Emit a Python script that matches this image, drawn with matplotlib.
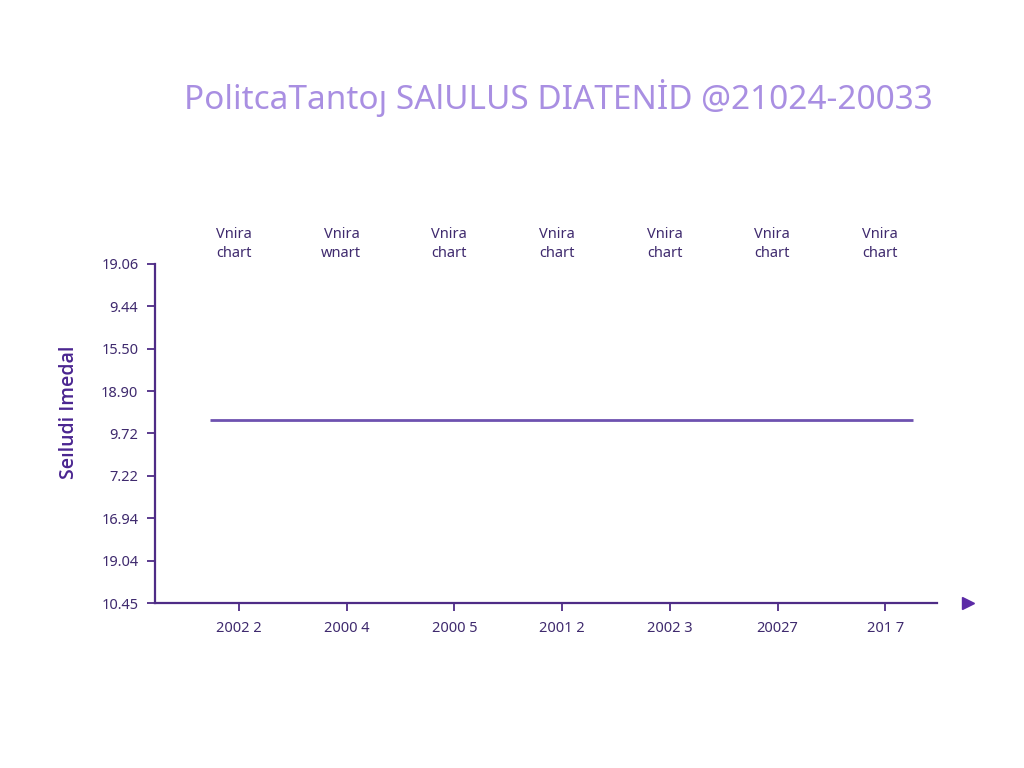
import matplotlib
matplotlib.use("Agg")
import matplotlib.pyplot as plt

plt.rcParams['font.family'] = ['Noto Sans', 'DejaVu Sans']

# Chart data
x_labels = ["2002 2", "2000 4", "2000 5", "2001 2", "2002 3", "20027", "201 7"]
y_labels = ["10.45", "19.04", "16.94", "7.22", "9.72", "18.90", "15.50", "9.44", "19.06"]
top_labels = ["Vnira\nchart", "Vnira\nwnart", "Vnira\nchart", "Vnira\nchart",
              "Vnira\nchart", "Vnira\nchart", "Vnira\nchart"]
level = [4.32, 4.32, 4.32, 4.32, 4.32, 4.32, 4.32]

title_col = "#a98fe2"
axis_col = "#4e2c86"
text_col = "#3f2a6e"
line_col = "#6e52b0"

fig = plt.figure(figsize=(10.24, 7.68), dpi=100)
ax = fig.add_axes([0.1514, 0.2148, 0.7637, 0.4415])

xs = list(range(len(x_labels)))
# flat series, drawn a little past the first and last category
ax.hlines(level[0], xs[0] - 0.27, xs[-1] + 0.26, color=line_col, lw=2)

ax.set_xlim(-0.78, 6.48)
ax.set_ylim(0, len(y_labels) - 1)
ax.set_xticks(xs)
ax.set_xticklabels(x_labels)
ax.set_yticks(range(len(y_labels)))
ax.set_yticklabels(y_labels)

for s in ["top", "right"]:
    ax.spines[s].set_visible(False)
for s in ["left", "bottom"]:
    ax.spines[s].set_color(axis_col)
    ax.spines[s].set_linewidth(1.6)
ax.tick_params(axis='both', colors=axis_col, labelcolor=text_col,
               labelsize=10.5, length=6, width=1.3)
ax.tick_params(axis='x', pad=7)
ax.tick_params(axis='y', pad=6)

# arrow head at the end of the x axis
ax.plot([6.77], [0], marker='>', color='#5b2aa6', markersize=9, clip_on=False)

for x, lab in zip(xs, top_labels):
    ax.text(x - 0.05, 1.008, lab, transform=ax.get_xaxis_transform(),
            ha='center', va='bottom', fontsize=10.5, color=text_col,
            linespacing=1.35)

ax.set_ylabel("Seıludi Imedal", fontsize=14, color="#4a2590",
              family=['Open Sans', 'DejaVu Sans'], fontweight='semibold')
ax.yaxis.set_label_coords(-0.097, 0.563)

fig.text(0.545, 0.873, "PolitcaTantoȷ SAlULUS DIATENİD @21024-20033",
         ha='center', va='center', fontsize=24, color=title_col)

fig.savefig("out.png", dpi=100, facecolor="white")
